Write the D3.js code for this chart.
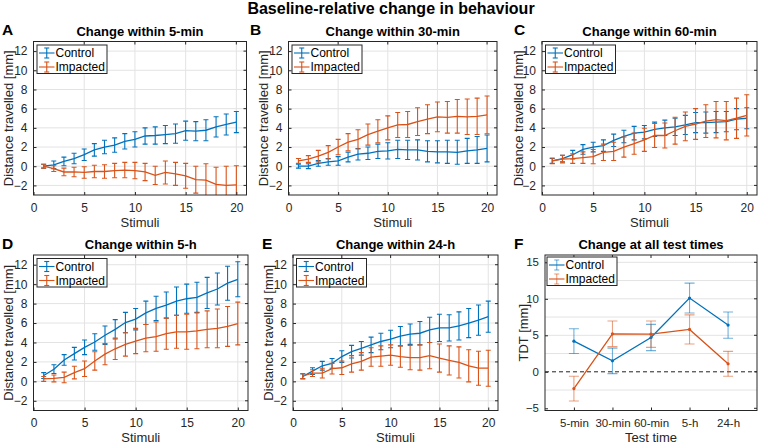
<!DOCTYPE html>
<html>
<head>
<meta charset="utf-8">
<script src="https://cdn.jsdelivr.net/npm/d3@7"></script>
<style>
  html, body { margin: 0; padding: 0; background: #fff; }
  svg { display: block; font-family: "Liberation Sans", Arial, Helvetica, sans-serif; }
</style>
</head>
<body>
<svg id="chart" width="760" height="445"></svg>
<script>
// ---------------- DATA ----------------
const stimuli = [1,2,3,4,5,6,7,8,9,10,11,12,13,14,15,16,17,18,19,20];
const seriesNames = ["Control", "Impacted"];
const panelTitles = ["Change within 5-min", "Change within 30-min", "Change within 60-min",
                     "Change within 5-h", "Change within 24-h", "Change at all test times"];
const panelLetters = ["A", "B", "C", "D", "E", "F"];
const stimTicks = [0, 5, 10, 15, 20];
const distTicks = [-2, 0, 2, 4, 6, 8, 10, 12];
const testTimes = ["5-min", "30-min", "60-min", "5-h", "24-h"];
const tdtTicks = [-5, 0, 5, 10, 15];

// A: 5-min
const ctrl5min    = [0.0,0.15,0.5,0.8,1.2,1.7,2.0,2.2,2.6,2.8,3.15,3.2,3.3,3.4,3.7,3.65,3.75,4.1,4.35,4.6];
const ctrl5minErr = [0.2,0.4,0.45,0.55,0.6,0.65,0.7,0.75,0.8,0.8,0.85,0.9,0.95,1.0,1.0,1.0,1.1,1.05,1.1,1.1];
const imp5min     = [0.0,-0.25,-0.6,-0.6,-0.65,-0.55,-0.55,-0.45,-0.4,-0.45,-0.6,-0.95,-0.65,-0.8,-1.0,-1.4,-1.45,-1.9,-2.0,-1.95];
const imp5minErr  = [0.2,0.3,0.4,0.5,0.6,0.65,0.7,0.75,0.8,0.85,0.9,0.95,1.2,1.2,1.3,1.4,1.7,1.8,2.0,2.0];
// B: 30-min
const ctrl30min    = [0.0,0.0,0.3,0.45,0.55,0.95,1.25,1.35,1.55,1.6,1.75,1.7,1.7,1.55,1.5,1.5,1.45,1.6,1.7,1.85];
const ctrl30minErr = [0.2,0.25,0.3,0.35,0.45,0.5,0.6,0.65,0.75,0.85,0.95,1.0,1.05,1.1,1.15,1.2,1.25,1.3,1.4,1.4];
const imp30min     = [0.55,0.75,1.05,1.45,2.0,2.5,2.8,3.3,3.65,4.0,4.3,4.35,4.65,4.9,5.15,5.1,5.2,5.15,5.2,5.35];
const imp30minErr  = [0.25,0.35,0.6,0.7,0.8,0.9,1.0,1.1,1.2,1.25,1.3,1.35,1.45,1.5,1.55,1.65,1.75,1.85,1.9,1.97];
// C: 60-min
const ctrl60min    = [0.55,0.8,1.2,1.75,2.0,2.15,2.7,3.1,3.45,3.55,3.85,4.0,4.1,4.3,4.55,4.55,4.6,4.65,4.9,5.0];
const ctrl60minErr = [0.25,0.35,0.45,0.5,0.5,0.6,0.65,0.65,0.7,0.7,0.75,0.8,0.9,1.0,1.05,1.1,1.1,1.05,1.1,1.1];
const imp60min     = [0.55,0.75,0.8,0.9,1.0,1.45,1.55,2.0,2.35,2.75,3.2,3.2,3.7,4.15,4.4,4.7,4.85,4.75,5.0,5.3];
const imp60minErr  = [0.3,0.4,0.5,0.6,0.75,0.85,0.95,1.05,1.1,1.2,1.25,1.3,1.4,1.5,1.6,1.7,1.9,2.0,2.1,2.15];
// D: 5-h
const ctrl5h    = [0.6,1.25,2.2,2.85,3.5,4.05,4.75,5.35,6.05,6.4,7.05,7.5,7.85,8.25,8.5,8.65,9.1,9.5,10.1,10.5];
const ctrl5hErr = [0.3,0.45,0.55,0.65,0.75,0.85,0.95,1.0,1.05,1.1,1.2,1.25,1.35,1.45,1.5,1.55,1.6,1.65,1.75,1.8];
const imp5h     = [0.25,0.3,0.4,0.9,1.3,2.1,2.8,3.35,3.8,4.15,4.45,4.6,4.9,5.1,5.1,5.2,5.35,5.45,5.65,5.95];
const imp5hErr  = [0.25,0.35,0.55,0.65,0.8,0.95,1.1,1.1,1.2,1.3,1.4,1.5,1.6,1.7,1.8,1.85,1.9,2.0,2.05,2.2];
// E: 24-h
const ctrl24h    = [0.5,1.05,1.6,1.85,2.55,3.05,3.4,3.75,4.1,4.35,4.65,4.85,4.95,5.3,5.5,5.5,5.7,6.0,6.3,6.65];
const ctrl24hErr = [0.25,0.35,0.45,0.5,0.6,0.65,0.7,0.8,0.85,0.9,1.0,1.05,1.2,1.3,1.4,1.35,1.45,1.5,1.55,1.6];
const imp24h     = [0.55,0.85,0.85,1.3,1.4,1.8,2.05,2.5,2.6,2.7,2.55,2.45,2.45,2.65,2.4,2.15,1.95,1.6,1.35,1.35];
const imp24hErr  = [0.25,0.35,0.5,0.55,0.7,0.85,0.9,0.95,1.05,1.05,1.1,1.25,1.3,1.35,1.45,1.5,1.6,1.65,1.75,1.85];
// F: total distance travelled per test time
const ctrlTDT    = [4.2, 1.5, 4.7, 10.1, 6.4];
const ctrlTDTErr = [1.7, 1.75, 1.8, 2.05, 1.8];
const impTDT     = [-2.3, 5.2, 5.15, 5.8, 1.1];
const impTDTErr  = [1.7, 1.75, 1.8, 2.0, 1.7];

// ---------------- STYLE ----------------
const BLUE = "#0072BD", RED = "#D95319";
const AXC = "#262626", GRIDC = "#e3e3e3";
const LABELFS = 13, LEGFS = 12;

const svg = d3.select("#chart");

svg.append("text").attr("x", 391).attr("y", 14).attr("text-anchor", "middle")
  .attr("font-size", 16).attr("font-weight", "bold").attr("fill", "#000")
  .text("Baseline-relative change in behaviour");

const defs = svg.append("defs");

function drawPanel(idx, box, opts) {
  const {left, right, top, bottom} = box;
  const x = d3.scaleLinear().domain(opts.xdom).range([left, right]);
  const y = d3.scaleLinear().domain(opts.ydom).range([bottom, top]);
  const g = svg.append("g");

  // grid
  if (opts.xgrid) {
    g.selectAll(null).data(opts.xgrid).enter().append("line")
      .attr("x1", d => x(d)).attr("x2", d => x(d)).attr("y1", top).attr("y2", bottom)
      .attr("stroke", GRIDC).attr("stroke-width", 1);
  }
  g.selectAll(null).data(opts.ygrid).enter().append("line")
    .attr("x1", left).attr("x2", right).attr("y1", d => y(d)).attr("y2", d => y(d))
    .attr("stroke", GRIDC).attr("stroke-width", 1);

  // zero line
  if (opts.zeroLine) {
    g.append("line").attr("x1", left).attr("x2", right).attr("y1", y(0)).attr("y2", y(0))
      .attr("stroke", "#222").attr("stroke-width", 1).attr("stroke-dasharray", "4,3");
  }

  // clip
  const cid = "clip" + idx;
  defs.append("clipPath").attr("id", cid).append("rect")
    .attr("x", left).attr("y", top).attr("width", right - left).attr("height", bottom - top);
  const dg = g.append("g").attr("clip-path", `url(#${cid})`);

  const cap = opts.cap;
  opts.series.forEach(s => {
    const pts = s.xs.map((xv, i) => ({x: xv, m: s.mean[i], e: s.err[i]}));
    const eb = dg.append("g").attr("stroke", s.color).attr("stroke-width", 1.1)
      .attr("stroke-opacity", opts.errOpacity || 1);
    pts.forEach(p => {
      const xp = x(p.x), y1 = y(p.m + p.e), y2 = y(p.m - p.e);
      eb.append("line").attr("x1", xp).attr("x2", xp).attr("y1", y1).attr("y2", y2);
      eb.append("line").attr("x1", xp - cap).attr("x2", xp + cap).attr("y1", y1).attr("y2", y1);
      eb.append("line").attr("x1", xp - cap).attr("x2", xp + cap).attr("y1", y2).attr("y2", y2);
    });
    dg.append("path").datum(pts)
      .attr("d", d3.line().x(d => x(d.x)).y(d => y(d.m)))
      .attr("fill", "none").attr("stroke", s.color).attr("stroke-width", 1.3);
    if (opts.markers) {
      dg.selectAll(null).data(pts).enter().append("circle")
        .attr("cx", d => x(d.x)).attr("cy", d => y(d.m)).attr("r", 1.6).attr("fill", s.color);
    }
  });

  // axes (MATLAB-like: inward ticks)
  const tl = 3;
  const xAxis = d3.axisBottom(x).tickValues(opts.xticks).tickSizeInner(-tl).tickSizeOuter(0)
    .tickPadding(8).tickFormat(opts.xfmt || d3.format("d"));
  const xa = svg.append("g").attr("transform", `translate(0,${bottom})`).call(xAxis);
  const yAxis = d3.axisLeft(y).tickValues(opts.yticks).tickSizeInner(-tl).tickSizeOuter(0)
    .tickPadding(6).tickFormat(d3.format("d"));
  const ya = svg.append("g").attr("transform", `translate(${left},0)`).call(yAxis);
  [xa, ya].forEach(a => {
    a.select(".domain").remove();
    a.selectAll(".tick line").attr("stroke", AXC);
    a.selectAll("text").attr("font-size", opts.tickFs).attr("fill", AXC)
      .attr("font-family", '"Liberation Sans", Arial, sans-serif');
  });
  // mirrored ticks top/right
  svg.append("g").selectAll(null).data(opts.xticks).enter().append("line")
    .attr("x1", d => x(d)).attr("x2", d => x(d))
    .attr("y1", top).attr("y2", top + tl).attr("stroke", AXC);
  svg.append("g").selectAll(null).data(opts.yticks).enter().append("line")
    .attr("x1", right).attr("x2", right - tl).attr("y1", d => y(d)).attr("y2", d => y(d)).attr("stroke", AXC);

  // box
  svg.append("rect").attr("x", left).attr("y", top).attr("width", right - left).attr("height", bottom - top)
    .attr("fill", "none").attr("stroke", AXC).attr("stroke-width", 1);

  // titles & labels
  svg.append("text").attr("x", (left + right) / 2).attr("y", top - 6).attr("text-anchor", "middle")
    .attr("font-size", 13).attr("font-weight", "bold").attr("fill", "#000").text(panelTitles[idx]);
  svg.append("text").attr("x", opts.letterX).attr("y", top - 6.5).attr("font-size", 15.5)
    .attr("font-weight", "bold").attr("fill", "#000").text(panelLetters[idx]);
  svg.append("text").attr("x", (left + right) / 2).attr("y", bottom + 31.5).attr("text-anchor", "middle")
    .attr("font-size", LABELFS).attr("fill", AXC).text(opts.xlabel);
  svg.append("text").attr("transform", `translate(${opts.ylabelX},${(top + bottom) / 2}) rotate(-90)`)
    .attr("text-anchor", "middle").attr("font-size", LABELFS).attr("fill", AXC).text(opts.ylabel);

  // legend
  const lx = left + opts.legDx, ly = top + opts.legDy, lw = 70, lh = 28.5;
  const lg = svg.append("g");
  lg.append("rect").attr("x", lx).attr("y", ly).attr("width", lw).attr("height", lh)
    .attr("fill", "#fff").attr("stroke", AXC).attr("stroke-width", 1);
  opts.series.forEach((s, i) => {
    const cy = ly + 8 + i * 14;
    const sx0 = lx + 2, sx1 = lx + 17.5, mx = (sx0 + sx1) / 2;
    const eg = lg.append("g").attr("stroke", s.color).attr("stroke-width", 1.1);
    eg.append("line").attr("x1", sx0).attr("x2", sx1).attr("y1", cy).attr("y2", cy);
    const eo = lg.append("g").attr("stroke", s.color).attr("stroke-width", 1.1)
      .attr("stroke-opacity", opts.errOpacity || 1);
    eo.append("line").attr("x1", mx).attr("x2", mx).attr("y1", cy - 5).attr("y2", cy + 5);
    eo.append("line").attr("x1", mx - 2.5).attr("x2", mx + 2.5).attr("y1", cy - 5).attr("y2", cy - 5);
    eo.append("line").attr("x1", mx - 2.5).attr("x2", mx + 2.5).attr("y1", cy + 5).attr("y2", cy + 5);
    lg.append("text").attr("x", lx + 18.5).attr("y", cy + 4.3).attr("font-size", LEGFS)
      .attr("fill", "#000").text(seriesNames[i]);
  });
}

const stimPanels = [
  {box: {left: 33.5, right: 246.5, top: 41.5, bottom: 195}, letterX: 2, ylabelX: 13,
   c: [ctrl5min, ctrl5minErr], m: [imp5min, imp5minErr]},
  {box: {left: 288.5, right: 497, top: 41.5, bottom: 195}, letterX: 250, ylabelX: 268,
   c: [ctrl30min, ctrl30minErr], m: [imp30min, imp30minErr]},
  {box: {left: 542, right: 757, top: 41.5, bottom: 195}, letterX: 514, ylabelX: 522.5,
   c: [ctrl60min, ctrl60minErr], m: [imp60min, imp60minErr]},
  {box: {left: 33.5, right: 248, top: 255, bottom: 410.5}, letterX: 2, ylabelX: 13,
   c: [ctrl5h, ctrl5hErr], m: [imp5h, imp5hErr]},
  {box: {left: 293, right: 498, top: 255, bottom: 410.5}, letterX: 262, ylabelX: 272.5,
   c: [ctrl24h, ctrl24hErr], m: [imp24h, imp24hErr]}
];

stimPanels.forEach((p, i) => {
  drawPanel(i, p.box, {
    xdom: [0, 21], ydom: [-3, 13],
    xticks: stimTicks, yticks: distTicks, tickFs: 12,
    xgrid: stimTicks.slice(1), ygrid: distTicks,
    cap: 2.5, letterX: p.letterX, ylabelX: p.ylabelX,
    xlabel: "Stimuli", ylabel: "Distance travelled [mm]",
    legDx: 3.5, legDy: 3.5,
    series: [
      {xs: stimuli, mean: p.c[0], err: p.c[1], color: BLUE},
      {xs: stimuli, mean: p.m[0], err: p.m[1], color: RED}
    ]
  });
});

const testIdx = testTimes.map((t, i) => i + 1);
drawPanel(5, {left: 545, right: 757, top: 255, bottom: 410.5}, {
  xdom: [0.25, 5.75], ydom: [-5.3, 16],
  xticks: testIdx, yticks: tdtTicks, tickFs: 11.5, xfmt: (d) => testTimes[d - 1],
  xgrid: null, ygrid: [-2.5, 2.5, 5, 7.5, 10, 12.5, 15],
  zeroLine: true, markers: true, errOpacity: 0.55,
  cap: 5, letterX: 514, ylabelX: 528,
  xlabel: "Test time", ylabel: "TDT [mm]",
  legDx: 2, legDy: 2,
  series: [
    {xs: testIdx, mean: ctrlTDT, err: ctrlTDTErr, color: BLUE},
    {xs: testIdx, mean: impTDT, err: impTDTErr, color: RED}
  ]
});
</script>
</body>
</html>
